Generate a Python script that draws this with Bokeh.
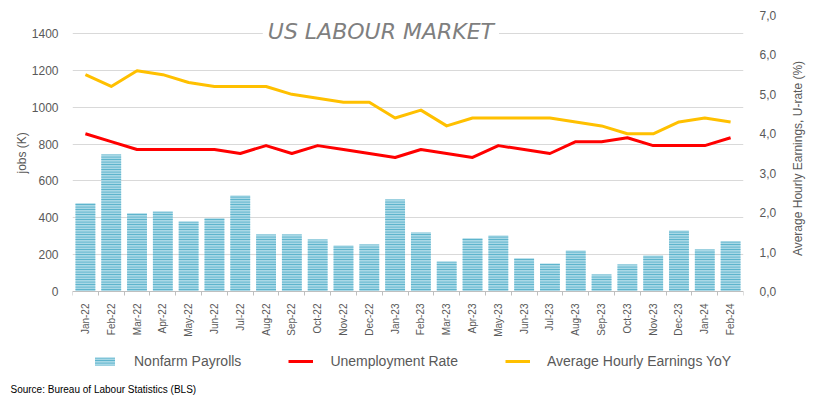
import math
from bokeh.plotting import figure
from bokeh.layouts import row
from bokeh.models import (Range1d, LinearAxis, FixedTicker, Label, Legend, LegendItem, Title)
from bokeh.embed import file_html
from bokeh.resources import INLINE

months = ["Jan-22", "Feb-22", "Mar-22", "Apr-22", "May-22", "Jun-22", "Jul-22", "Aug-22",
          "Sep-22", "Oct-22", "Nov-22", "Dec-22", "Jan-23", "Feb-23", "Mar-23", "Apr-23",
          "May-23", "Jun-23", "Jul-23", "Aug-23", "Sep-23", "Oct-23", "Nov-23", "Dec-23",
          "Jan-24", "Feb-24"]
nfp = [479, 743, 425, 434, 380, 398, 521, 309, 309, 282, 250, 255, 499,
       320, 163, 289, 304, 181, 152, 222, 92, 146, 195, 331, 228, 273]
urate = [4.0, 3.8, 3.6, 3.6, 3.6, 3.6, 3.5, 3.7, 3.5, 3.7, 3.6, 3.5, 3.4,
         3.6, 3.5, 3.4, 3.7, 3.6, 3.5, 3.8, 3.8, 3.9, 3.7, 3.7, 3.7, 3.9]
ahe = [5.5, 5.2, 5.6, 5.5, 5.3, 5.2, 5.2, 5.2, 5.0, 4.9, 4.8, 4.8, 4.4,
       4.6, 4.2, 4.4, 4.4, 4.4, 4.4, 4.3, 4.2, 4.0, 4.0, 4.3, 4.4, 4.3]
left_ticks = [0, 200, 400, 600, 800, 1000, 1200, 1400]
right_ticks = [0, 1, 2, 3, 4, 5, 6, 7]

xs = list(range(len(months)))
GRAY = "#595959"
FONT = "Liberation Sans"
BAR_FILL = "#a8d8e6"
BAR_HATCH = "#4bacc6"
RED = "#ff0000"
YELLOW = "#ffc000"

# frame spans 363 px: 276 px above the zero line, 87 px below it (x labels + legend)
PX_TOP, PX_BOT = 276.0, 87.0
jobs_per_px = 1400 / 258.0
pct_per_px = 7 / PX_TOP
y_jobs = Range1d(-PX_BOT * jobs_per_px, PX_TOP * jobs_per_px)
y_pct = Range1d(-PX_BOT * pct_per_px, 7)

p = figure(width=785, height=410, x_range=Range1d(-0.5, len(months) - 0.5),
           y_range=y_jobs, output_backend="svg", toolbar_location=None,
           min_border_left=72, min_border_right=42, min_border_top=15, min_border_bottom=32)
p.extra_y_ranges = {"pct": y_pct}
p.outline_line_color = None
p.background_fill_color = "white"

# x axis (drawn at the zero line)
p.xaxis.fixed_location = 0
p.xaxis.ticker = FixedTicker(ticks=xs, minor_ticks=[i - 0.5 for i in range(len(months) + 1)])
p.xaxis.major_label_overrides = {i: m for i, m in enumerate(months)}
p.xaxis.major_label_orientation = math.pi / 2
p.xaxis.major_tick_out = 0
p.xaxis.major_tick_in = 0
p.xaxis.minor_tick_out = 4
p.xaxis.minor_tick_in = 0
p.xaxis.axis_line_color = "#bfbfbf"
p.xaxis.minor_tick_line_color = "#bfbfbf"
p.xaxis.major_label_text_font = FONT
p.xaxis.major_label_text_font_size = "10px"
p.xaxis.major_label_text_color = GRAY
p.xaxis.major_label_standoff = 8

# left axis
p.yaxis.ticker = FixedTicker(ticks=left_ticks)
p.yaxis.major_label_text_font = FONT
p.yaxis.major_label_text_font_size = "12px"
p.yaxis.major_label_text_color = GRAY
p.yaxis.major_label_standoff = 8
p.yaxis.axis_line_color = None
p.yaxis.major_tick_line_color = None
p.yaxis.minor_tick_line_color = None

# right axis
raxis = LinearAxis(y_range_name="pct", ticker=FixedTicker(ticks=right_ticks))
raxis.major_label_overrides = {t: f"{t},0" for t in right_ticks}
raxis.major_label_text_font = FONT
raxis.major_label_text_font_size = "12px"
raxis.major_label_text_color = GRAY
raxis.major_label_standoff = 10
raxis.axis_line_color = None
raxis.major_tick_line_color = None
raxis.minor_tick_line_color = None
p.add_layout(raxis, "right")

p.xgrid.visible = False
p.ygrid.ticker = FixedTicker(ticks=left_ticks)
p.ygrid.grid_line_color = "#d9d9d9"

# glyphs
bars = p.vbar(x=xs, top=nfp, width=0.77, bottom=0, fill_color=BAR_FILL,
              hatch_pattern="horizontal_line", hatch_color=BAR_HATCH, hatch_scale=2.5,
              hatch_weight=1, line_color=None)
rl = p.line(xs, urate, y_range_name="pct", line_color=RED, line_width=3, line_join="round")
yl = p.line(xs, ahe, y_range_name="pct", line_color=YELLOW, line_width=3, line_join="round")

title = Label(x=11.45, y=1400, text="US LABOUR MARKET", text_align="center",
              text_baseline="middle", text_font="DejaVu Sans", text_font_style="italic",
              text_font_size="22px", text_color="#7f7f7f", background_fill_color="white",
              y_offset=2.5, padding=5)
p.add_layout(title)

legend = Legend(items=[LegendItem(label="Nonfarm Payrolls", renderers=[bars]),
                       LegendItem(label="Unemployment Rate", renderers=[rl]),
                       LegendItem(label="Average Hourly Earnings YoY", renderers=[yl])],
                orientation="horizontal", location=(20, 9))
legend.label_text_font = FONT
legend.label_text_font_size = "14px"
legend.label_text_color = GRAY
legend.glyph_width = 25
legend.glyph_height = 10
legend.label_standoff = 17
legend.spacing = 47
legend.padding = 4
legend.margin = 0
legend.border_line_color = None
legend.background_fill_alpha = 0
p.add_layout(legend)

# left axis title (reads bottom to top, placed level with the upper plot area)
ltitle = Title(text="jobs (K)", align="left", offset=205, text_font=FONT,
               text_font_style="normal", text_font_size="12px", text_color=GRAY,
               standoff=0)
p.add_layout(ltitle, "left")

src = Title(text="Source: Bureau of Labour Statistics (BLS)", align="left", offset=-62,
            text_font=FONT, text_font_style="normal", text_font_size="10px",
            text_color="black", standoff=6)
p.add_layout(src, "below")

# right-hand axis title
r = figure(width=31, height=410, x_range=Range1d(0, 31), y_range=p.y_range,
           output_backend="svg", toolbar_location=None, x_axis_location=None,
           y_axis_location=None, min_border=0)
r.outline_line_color = None
r.xgrid.visible = False
r.ygrid.visible = False
r.add_layout(Label(x=12, y=(291 - 158) * jobs_per_px,
                   text="Average Hourly Earnings, U-rate (%)", angle=math.pi / 2,
                   text_align="center", text_baseline="middle", text_font=FONT,
                   text_font_size="12px", text_color=GRAY))

open("out.html", "w").write(file_html(row(p, r, spacing=0), INLINE))
